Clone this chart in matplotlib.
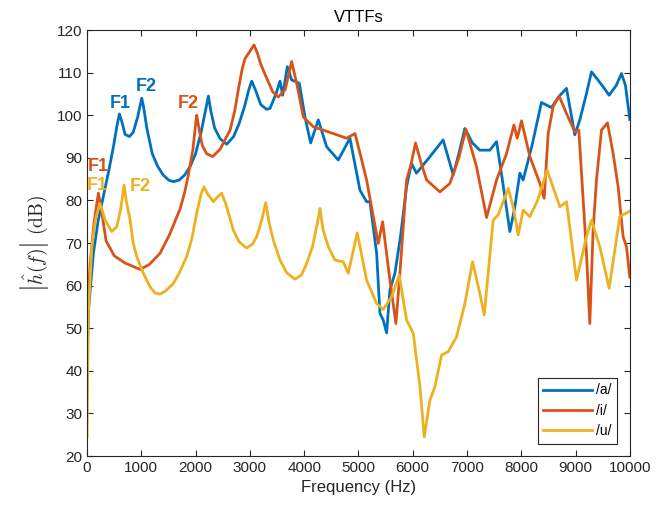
import matplotlib
matplotlib.use("Agg")
import matplotlib.pyplot as plt

# --- datos (Hz, dB) ---
f_a = [0, 30, 116, 200, 300, 400, 485, 550, 595, 640, 700, 779, 850, 930, 1007, 1040,
       1100, 1200, 1300, 1400, 1500, 1590, 1700, 1800, 1900, 2000, 2100, 2180, 2235, 2280,
       2350, 2450, 2572, 2700, 2800, 2900, 2980, 3033, 3100, 3200, 3309,
       3370, 3480, 3554, 3604, 3689, 3769, 3910, 4015, 4119, 4260, 4414, 4628, 4843, 5028,
       5150, 5212, 5335, 5396, 5457, 5519, 5580, 5672, 5780, 5886, 5977, 6069, 6300, 6561,
       6746, 6850, 6961, 7100, 7237, 7421, 7545, 7650, 7790, 7882, 7974, 8035, 8200, 8372,
       8556, 8700, 8834, 8987, 9079, 9200, 9294, 9400, 9508, 9619, 9750, 9847, 9920, 10000]
h_a = [44, 55, 67.6, 75, 81, 87, 92.6, 97.5, 100.3, 98.5, 95.5, 95, 96, 99.5, 104, 102,
       97, 91, 88, 86, 84.8, 84.4, 84.8, 86, 88, 91, 96, 101, 104.5, 101,
       97, 94.5, 93.2, 95, 98, 102, 106, 108, 106, 102.5, 101.4,
       101.6, 105, 108, 104.7, 111.4, 108.3, 107.5, 99.6, 93.5, 98.9, 92.6, 89.5, 94.6, 82.4,
       79.7, 79.7, 67.6, 53.5, 51.9, 48.9, 59, 62.9, 72, 83.2, 88.7, 86.4, 90, 94.2,
       86, 91, 96.9, 93.5, 91.8, 91.8, 93.8, 85, 72.7, 78.5, 86.4, 84.8, 93, 103,
       101.8, 104.5, 106.3, 95.4, 98.9, 105, 110.2, 108.5, 106.7, 104.7, 107, 109.8, 107, 99]

f_i = [0, 55, 130, 208, 260, 350, 500, 700, 976, 1150, 1344, 1520, 1713, 1800, 1866, 1950,
       2000, 2020, 2060, 2120, 2200, 2314, 2450, 2634, 2720, 2800, 2860, 2910, 3000, 3075,
       3140, 3200, 3309, 3420, 3523, 3650, 3769,
       3870, 3984, 4168, 4536, 4782, 4936, 5050, 5150, 5365, 5445, 5580, 5690, 5764, 5887,
       5960, 6052, 6150, 6256, 6501, 6685, 6850, 6980, 7176, 7361, 7545, 7729, 7864, 7926,
       8005, 8158, 8343, 8422, 8496, 8587, 8698, 8834, 8987, 9061, 9202, 9263, 9324, 9386,
       9478, 9589, 9693, 9785, 9877, 9939, 10000]
h_i = [52, 65, 75, 81.7, 78, 70.5, 67, 65.3, 63.8, 65, 67.6, 72, 78, 82, 86, 92,
       98, 100, 97, 93, 91, 90.3, 92, 96.5, 101, 107, 111, 113.3, 115, 116.5,
       114.5, 112, 108.7, 105.5, 104.3, 106, 112.6,
       107, 99.6, 97.3, 95.7, 94.6, 95.7, 90, 84.8, 69.9, 75, 61.3, 51.1, 62.9, 84.8,
       88, 93.5, 89, 84.8, 82, 84, 90, 96.7, 87.9, 76, 84.8, 91, 97.7, 94.6,
       98.7, 90.3, 84, 80.5, 95.7, 102, 104.5, 100.4, 96.1, 96.5, 67.6, 51.1, 73, 84.8,
       96.5, 98.2, 91, 83.2, 71.5, 69.1, 62]

f_u = [0, 10, 24, 86, 160, 240, 331, 454, 546, 620, 681, 720, 792, 850, 915, 1037, 1160,
       1250, 1344, 1450, 1590, 1700, 1834, 1930, 2020, 2100, 2155, 2220, 2327, 2400, 2480,
       2560, 2695, 2800, 2941, 3050, 3125, 3220, 3291, 3350, 3431, 3554, 3680, 3831, 3950,
       4045, 4150, 4240, 4291, 4350, 4445, 4567, 4720, 4812, 4978, 5150, 5335, 5457, 5611,
       5751, 5887, 6010, 6133, 6212, 6317, 6409, 6532, 6654, 6808, 6869, 6961, 7102, 7237,
       7317, 7483, 7575, 7760, 7851, 7943, 8035, 8158, 8300, 8477, 8711, 8834, 9018, 9202,
       9294, 9448, 9619, 9816, 10000]
h_u = [24.5, 38, 53.5, 69, 76, 79.3, 75.4, 72.7, 73.8, 78, 83.6, 80, 75.4, 70, 66.8, 62.9, 59.7,
       58.3, 58, 58.8, 60.5, 63, 66.8, 71, 77, 81.5, 83.2, 81.5, 79.7, 80.8, 81.7,
       79, 73, 70.3, 68.8, 69.8, 71.5, 75.5, 79.5, 75, 70.7, 66, 63, 61.5, 62.5,
       65.2, 69, 74.5, 78.1, 73, 69.1, 66, 65.6, 62.9, 72.4, 61.3, 55.8, 54.4, 57.4,
       62.5, 51.9, 48.8, 36.3, 24.5, 33.1, 36.3, 43.7, 44.5, 48, 51.1, 55.8, 65.6, 58.2,
       53.1, 75.4, 76.6, 82.8, 78.5, 71.9, 77.7, 76.2, 80, 87.1, 78.5, 79.7, 61.3, 71.5,
       75.4, 69.1, 59.4, 76.2, 77.5]

series = [("/a/", f_a, h_a), ("/i/", f_i, h_i), ("/u/", f_u, h_u)]
colores = ["#0072BD", "#D95319", "#EDB120"]

# etiquetas de formantes: (texto, Hz, dB, índice de color)
formantes = [("F1", 608, 102.8, 0), ("F2", 1099, 106.7, 0), ("F2", 1866, 102.8, 1),
             ("F1", 208, 87.9, 1), ("F1", 178, 83.6, 2), ("F2", 987, 83.2, 2)]

plt.rcParams["font.family"] = ["Liberation Sans", "DejaVu Sans"]
plt.rcParams["mathtext.fontset"] = "cm"

fig = plt.figure(figsize=(6.7, 5.11), dpi=100)
ax = fig.add_axes([0.13, 0.1076, 0.81, 0.8336])

for (nombre, f, h), c in zip(series, colores):
    ax.plot(f, h, color=c, lw=2, label=nombre)

for txt, fx, fy, ci in formantes:
    ax.text(fx, fy, txt, color=colores[ci], fontsize=13, fontweight="bold",
            ha="center", va="center")

ax.set_xlim(0, 10000)
ax.set_ylim(20, 120)
ax.set_xticks(range(0, 10001, 1000))
ax.set_yticks(range(20, 121, 10))
ax.tick_params(direction="in", top=True, right=True, labelsize=11, colors="#262626",
               length=4)
for s in ax.spines.values():
    s.set_color("#262626")
    s.set_linewidth(0.8)

ax.set_title("VTTFs", fontsize=12, color="black")
ax.set_xlabel("Frequency (Hz)", fontsize=12, color="#262626")
ax.set_ylabel(r"$\left|\hat{h}(f)\right|\ \mathrm{(dB)}$", fontsize=14, color="#262626")

leg = ax.legend(loc="lower right", fontsize=10, fancybox=False, framealpha=1,
                edgecolor="#262626", handlelength=3.5, handletextpad=0.3,
                labelspacing=0.45, borderpad=0.4, borderaxespad=0.9)
leg.get_frame().set_linewidth(0.8)

fig.savefig("out.png", dpi=100)
